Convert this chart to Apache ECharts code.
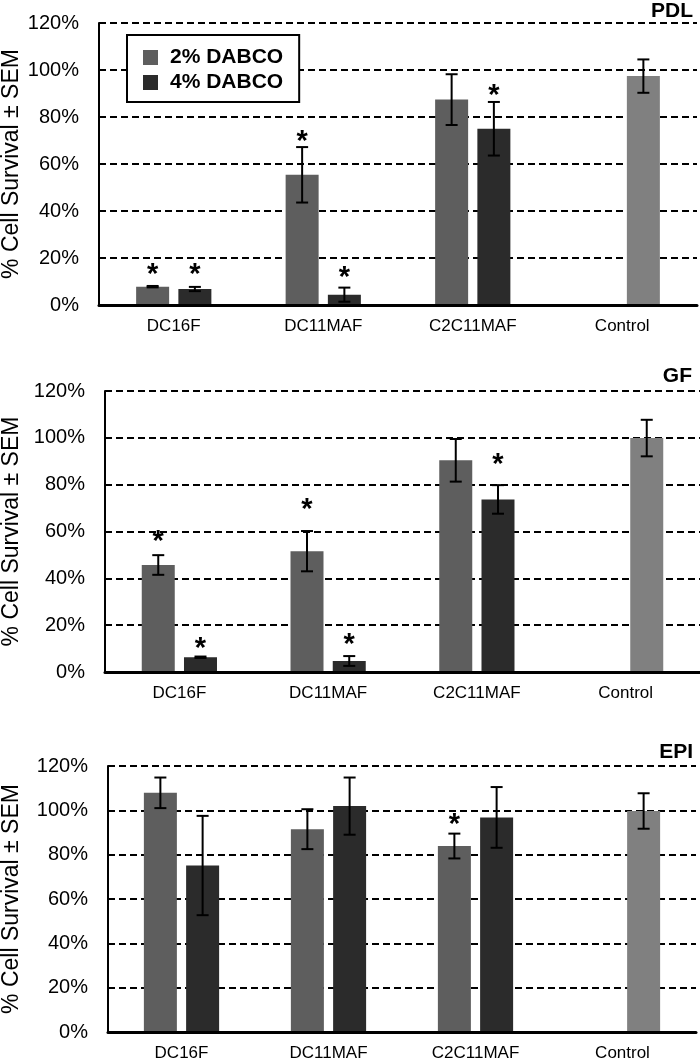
<!DOCTYPE html>
<html><head><meta charset="utf-8">
<script src="https://cdn.jsdelivr.net/npm/echarts@6/dist/echarts.min.js"></script>
<style>html,body{margin:0;padding:0;background:#fff}#c{width:700px;height:1061px}</style>
</head><body><div id="c"></div>
<script>
// ---------- data ----------
const categories = ['DC16F', 'DC11MAF', 'C2C11MAF', 'Control'];
const seriesNames = ['2% DABCO', '4% DABCO'];
const panelTitles = ['PDL', 'GF', 'EPI'];
const yAxisTitle = '% Cell Survival ± SEM';
const yMin = 0, yMax = 120, yStep = 20;

// PDL
const pdl2 = [7.8, 55.4, 87.4];
const pdl2Err = [0.3, 11.8, 10.8];
const pdl4 = [6.8, 4.4, 75.0];
const pdl4Err = [0.9, 3.0, 11.4];
const pdlControl = 97.4, pdlControlErr = 7.1;
const pdlStar2 = [15.6, 72.4, null];
const pdlStar4 = [15.6, 14.6, 91.9];

// GF
const gf2 = [45.7, 51.6, 90.4];
const gf2Err = [4.2, 8.6, 9.1];
const gf4 = [6.3, 4.7, 73.7];
const gf4Err = [0.3, 2.1, 6.1];
const gfControl = 99.9, gfControlErr = 7.8;
const gfStar2 = [58.4, 72.3, null];
const gfStar4 = [12.8, 14.5, 91.2];

// EPI
const epi2 = [107.9, 91.5, 83.9];
const epi2Err = [6.9, 9.0, 5.6];
const epi4 = [75.1, 101.9, 96.8];
const epi4Err = [22.4, 12.9, 13.7];
const epiControl = 99.7, epiControlErr = 8.0;
const epiStar2 = [null, null, 96.4];
const epiStar4 = [null, null, null];

const panels = [
  {v2: pdl2, e2: pdl2Err, v4: pdl4, e4: pdl4Err, c: pdlControl, ce: pdlControlErr, s2: pdlStar2, s4: pdlStar4},
  {v2: gf2, e2: gf2Err, v4: gf4, e4: gf4Err, c: gfControl, ce: gfControlErr, s2: gfStar2, s4: gfStar4},
  {v2: epi2, e2: epi2Err, v4: epi4, e4: epi4Err, c: epiControl, ce: epiControlErr, s2: epiStar2, s4: epiStar4}
];

// ---------- layout / style ----------
const FONT = "'Liberation Sans', Arial, sans-serif";
const layout = [
  {left: 99, right: 3, top: 23, height: 282, titleX: 693, titleY: 11},
  {left: 105, right: 0, top: 391, height: 281, titleX: 692, titleY: 376},
  {left: 108, right: 4, top: 766, height: 266, titleX: 693, titleY: 752}
];
const Y_TITLE_X = 12;
const COL2 = '#5e5e5e', COL4 = '#2b2b2b', COLC = '#808080';
const BAR_W = 33, BAR_GAP = 0.28;
const OFF = BAR_W * (1 + BAR_GAP) / 2;

function errRender(params, api) {
  const cat = api.value(0), v = api.value(1), e = api.value(2), sgn = api.value(3);
  const x = api.coord([cat, 0])[0] + sgn * OFF;
  const yHi = api.coord([cat, v + e])[1];
  const yLo = api.coord([cat, Math.max(v - e, 0)])[1];
  const st = {stroke: '#000', lineWidth: 2};
  return {type: 'group', children: [
    {type: 'line', shape: {x1: x, y1: yHi, x2: x, y2: yLo}, style: st},
    {type: 'line', shape: {x1: x - 6, y1: yHi, x2: x + 6, y2: yHi}, style: st},
    {type: 'line', shape: {x1: x - 6, y1: yLo, x2: x + 6, y2: yLo}, style: st}
  ]};
}
function starRender(params, api) {
  const cat = api.value(0), lvl = api.value(1), sgn = api.value(2);
  const p = api.coord([cat, lvl]);
  return {type: 'text', style: {text: '*', x: p[0] + sgn * OFF, y: p[1] + 7,
    textAlign: 'center', textVerticalAlign: 'middle',
    font: 'bold 29px ' + FONT, fill: '#000'}};
}

const grid = [], xAxis = [], yAxis = [], series = [], graphic = [];
panels.forEach((p, i) => {
  const L = layout[i];
  grid.push({left: L.left, right: L.right, top: L.top, height: L.height,
    containLabel: false, outerBoundsMode: 'none'});
  xAxis.push({gridIndex: i, type: 'category', data: categories,
    axisTick: {show: false},
    axisLine: {show: true, lineStyle: {color: '#000', width: 3}},
    axisLabel: {fontSize: 17, color: '#000', margin: 13, fontFamily: FONT},
    splitLine: {show: false}, z: 5});
  yAxis.push({gridIndex: i, type: 'value', min: yMin, max: yMax, interval: yStep,
    axisLine: {show: true, lineStyle: {color: '#000', width: 2}},
    axisTick: {show: false},
    axisLabel: {formatter: '{value}%', fontSize: 20, color: '#000', margin: 20, fontFamily: FONT},
    splitLine: {show: true, lineStyle: {type: [7, 4], color: '#000', width: 2}}});
  const d2 = p.v2.concat(['-']);
  const d4 = p.v4.concat([{value: p.c, itemStyle: {color: COLC}}]);
  series.push({name: seriesNames[0], type: 'bar', xAxisIndex: i, yAxisIndex: i, data: d2,
    barWidth: BAR_W, barGap: (BAR_GAP * 100) + '%', itemStyle: {color: COL2}, z: 2, animation: false});
  series.push({name: seriesNames[1], type: 'bar', xAxisIndex: i, yAxisIndex: i, data: d4,
    barWidth: BAR_W, barGap: (BAR_GAP * 100) + '%', itemStyle: {color: COL4}, z: 2, animation: false});
  const errData = [];
  p.v2.forEach((v, k) => errData.push([k, v, p.e2[k], -1]));
  p.v4.forEach((v, k) => errData.push([k, v, p.e4[k], 1]));
  errData.push([3, p.c, p.ce, 1]);
  series.push({type: 'custom', xAxisIndex: i, yAxisIndex: i, data: errData, renderItem: errRender,
    z: 4, silent: true, animation: false});
  const starData = [];
  p.s2.forEach((s, k) => { if (s != null) starData.push([k, s, -1]); });
  p.s4.forEach((s, k) => { if (s != null) starData.push([k, s, 1]); });
  series.push({type: 'custom', xAxisIndex: i, yAxisIndex: i, data: starData, renderItem: starRender,
    z: 4, silent: true, animation: false});
  graphic.push({type: 'text', x: L.titleX, y: L.titleY, style: {text: panelTitles[i],
    font: 'bold 21px ' + FONT, fill: '#000', textAlign: 'right', textVerticalAlign: 'middle'}});
  graphic.push({type: 'text', x: Y_TITLE_X, y: L.top + L.height / 2, rotation: Math.PI / 2,
    style: {text: yAxisTitle, font: '23px ' + FONT, fill: '#000',
      textAlign: 'center', textVerticalAlign: 'middle'}});
});

const chart = echarts.init(document.getElementById('c'), null, {renderer: 'canvas'});
chart.setOption({
  backgroundColor: '#fff',
  animation: false,
  textStyle: {fontFamily: FONT},
  grid, xAxis, yAxis, series, graphic,
  legend: {data: seriesNames, orient: 'vertical', left: 127, top: 35,
    itemWidth: 15, itemHeight: 15, itemGap: 4, icon: 'rect',
    padding: [12, 16, 9, 16], borderColor: '#000', borderWidth: 2, backgroundColor: '#fff',
    selectedMode: false, z: 10,
    textStyle: {fontSize: 21, fontWeight: 'bold', color: '#000', fontFamily: FONT, padding: [0, 0, 0, 7]}}
});
</script></body></html>
